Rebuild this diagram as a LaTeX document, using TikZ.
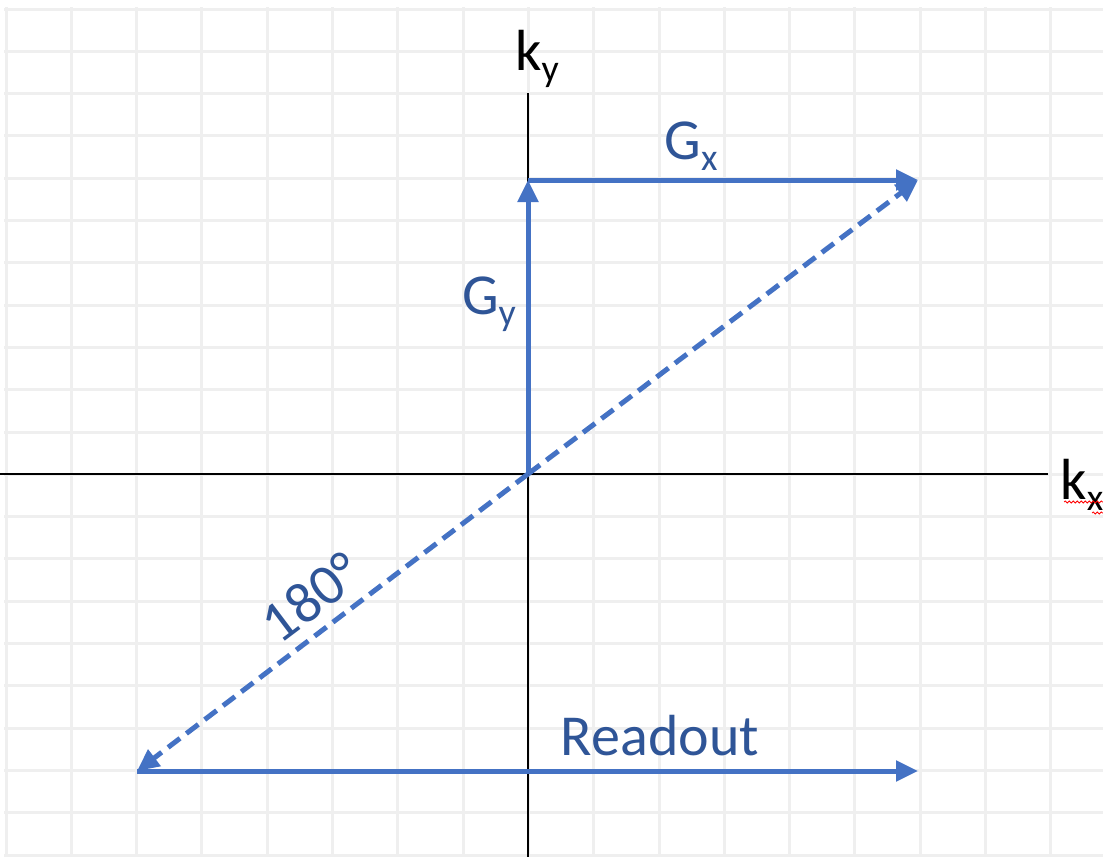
\documentclass[tikz,border=0pt]{standalone}
\usepackage{fontspec}
\setmainfont{Carlito}
\usetikzlibrary{arrows.meta,decorations.pathmorphing}
\definecolor{gridc}{HTML}{EFEFEF}
\definecolor{lineblue}{HTML}{4472C4}
\definecolor{textblue}{HTML}{2F5597}
\begin{document}
\begin{tikzpicture}[x=1pt,y=-1pt,
  gridline/.style={draw=gridc,line width=3pt},
  axisline/.style={draw=black,line width=2.2pt},
  vec/.style={draw=lineblue,line width=5pt,-{Triangle[length=22pt,width=20pt]}},
  dvec/.style={vec,dash pattern=on 15pt off 8pt},
  axlabel/.style={font=\fontsize{58}{62}\selectfont,text=black,inner sep=0pt},
  bluelabel/.style={font=\fontsize{58}{62}\selectfont,text=textblue,inner sep=0pt}]
\useasboundingbox (0,0) rectangle (1103,857);
\begin{scope}
\clip (4,7) rectangle (1103,857);
\foreach \i in {0,...,17} {\draw[gridline] ({6+65.3*\i},7) -- ({6+65.3*\i},857);}
\foreach \j in {0,...,20} {\draw[gridline] (4,{9+42.3*\j}) -- (1103,{9+42.3*\j});}
\end{scope}
% axes
\coordinate (O) at (528,474);
\coordinate (xl) at (0,474);
\coordinate (xr) at (1048,474);
\coordinate (yt) at (528,93);
\coordinate (yb) at (528,857);
\draw[axisline] (xl) -- (xr);
\draw[axisline] (yt) -- (yb);
\node[axlabel] (ky) at (537,59) {k\raisebox{-0.4ex}{\fontsize{38}{40}\selectfont y}};
\node[axlabel] (kx) at (1082,485) {k\raisebox{-0.4ex}{\fontsize{38}{40}\selectfont x}};
\draw[red,line width=0.8pt,decorate,decoration={snake,amplitude=1pt,segment length=4pt}] (1064,502) -- (1103,502);
\draw[red,line width=0.8pt,decorate,decoration={snake,amplitude=1pt,segment length=4pt}] (1092,513) -- (1103,513);
% vectors
\coordinate (T) at (528,180);
\coordinate (P) at (918,180);
\coordinate (Q) at (137,771);
\coordinate (R) at (918,771);
\draw[vec] (O) -- (T);
\draw[vec] (T) -- (P);
\draw[dvec] (O) -- (P);
\draw[dvec] (O) -- (Q);
\draw[vec] (Q) -- (R);
% labels
\node[bluelabel] (gx) at (691,146) {G\raisebox{-0.4ex}{\fontsize{38}{40}\selectfont x}};
\node[bluelabel] (gy) at (489,304) {G\raisebox{-0.4ex}{\fontsize{38}{40}\selectfont y}};
\node[bluelabel,rotate=37] (deg) at (311,597) {180°};
\node[bluelabel] (ro) at (660,736) {Readout};
\end{tikzpicture}
\end{document}
